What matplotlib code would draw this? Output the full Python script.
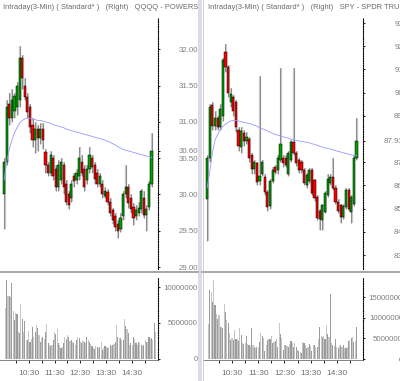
import matplotlib
matplotlib.use("Agg")
import matplotlib.pyplot as plt
from matplotlib.lines import Line2D
from matplotlib.patches import Rectangle
import numpy as np

plt.rcParams["font.family"] = ["Liberation Sans", "DejaVu Sans"]

W, H = 400, 381

# ---- QQQQ (left) 6-min candles -------------------------------------------
qqq_open = [30.00, 30.45, 31.25, 31.05, 31.15, 31.20, 31.30, 31.88, 31.50, 31.34,
            31.20, 30.95, 30.75, 30.90, 30.78, 30.90, 30.58, 30.40, 30.30, 30.50,
            30.35, 30.10, 30.20, 30.40, 30.15, 30.00, 29.95, 30.25, 30.20, 30.25,
            30.45, 30.35, 30.20, 30.35, 30.50, 30.40, 30.30, 30.15, 30.15, 29.98,
            30.03, 29.90, 29.78, 29.70, 29.60, 29.52, 29.70, 30.00, 30.10, 29.95,
            29.83, 29.70, 29.75, 29.80, 29.95, 29.72, 29.83, 30.15]
qqq_high = [30.50, 31.30, 31.40, 31.45, 31.40, 31.55, 32.05, 31.92, 31.60, 31.40,
            31.25, 31.05, 31.00, 30.95, 30.98, 30.98, 30.62, 30.45, 30.60, 30.55,
            30.40, 30.48, 30.50, 30.45, 30.20, 30.05, 30.20, 30.30, 30.35, 30.65,
            30.55, 30.40, 30.40, 30.65, 30.55, 30.45, 30.35, 30.30, 30.20, 30.10,
            30.08, 29.95, 29.82, 29.75, 29.65, 29.75, 30.05, 30.40, 30.15, 30.00,
            29.88, 29.85, 29.90, 30.08, 30.05, 29.85, 30.18, 30.85]
qqq_low = [29.52, 30.40, 30.95, 31.00, 31.05, 31.10, 31.20, 31.45, 31.30, 31.05,
           30.85, 30.65, 30.57, 30.60, 30.70, 30.62, 30.30, 30.25, 30.25, 30.20,
           30.05, 30.05, 30.15, 30.00, 29.85, 29.80, 29.90, 30.10, 30.15, 30.20,
           30.25, 30.05, 30.15, 30.30, 30.30, 30.15, 30.10, 30.10, 29.95, 29.95,
           29.85, 29.70, 29.60, 29.50, 29.40, 29.48, 29.65, 29.95, 29.82, 29.75,
           29.58, 29.65, 29.70, 29.75, 29.68, 29.50, 29.78, 30.10]
qqq_close = [30.45, 31.20, 31.05, 31.30, 31.35, 31.50, 31.88, 31.60, 31.34, 31.13,
             30.93, 30.75, 30.90, 30.78, 30.90, 30.75, 30.40, 30.30, 30.55, 30.25,
             30.10, 30.40, 30.45, 30.10, 29.90, 29.85, 30.15, 30.18, 30.30, 30.50,
             30.30, 30.10, 30.35, 30.54, 30.38, 30.22, 30.15, 30.25, 30.00, 30.05,
             29.90, 29.75, 29.65, 29.55, 29.50, 29.68, 30.00, 30.10, 29.88, 29.80,
             29.67, 29.78, 29.82, 30.05, 29.72, 29.80, 30.15, 30.60]
qqq_vwap = [30.20, 30.45, 30.62, 30.75, 30.85, 30.92, 30.98, 31.02, 31.04, 31.05,
            31.05, 31.04, 31.03, 31.02, 31.02, 31.01, 31.00, 30.99, 30.98, 30.96,
            30.95, 30.94, 30.93, 30.92, 30.90, 30.89, 30.88, 30.87, 30.86, 30.85,
            30.84, 30.83, 30.82, 30.81, 30.80, 30.79, 30.78, 30.77, 30.76, 30.75,
            30.73, 30.72, 30.70, 30.68, 30.66, 30.64, 30.62, 30.61, 30.60, 30.59,
            30.58, 30.57, 30.56, 30.55, 30.54, 30.53, 30.52, 30.51]
# 3-min volume, millions of shares
qqq_vol = [7.1, 11.0, 8.8, 8.8, 8.6, 10.5, 6.6, 5.4, 6.4, 6.2,
           3.8, 3.6, 7.6, 5.5, 3.8, 5.3, 2.6, 2.6, 3.9, 2.4,
           2.8, 4.5, 3.0, 3.8, 4.7, 4.3, 3.3, 2.4, 2.9, 3.0,
           2.8, 3.8, 4.9, 2.2, 2.0, 1.8, 2.0, 2.6, 3.8, 3.5,
           4.2, 2.2, 2.0, 1.5, 1.7, 2.2, 3.1, 2.8, 3.3, 3.0,
           2.5, 2.6, 2.4, 2.2, 2.0, 2.6, 3.1, 2.9, 2.4, 2.2,
           2.5, 2.3, 2.2, 3.1, 2.7, 2.4, 2.1, 1.8, 1.5, 1.4,
           1.8, 1.6, 1.5, 1.7, 2.4, 1.3, 1.5, 1.8, 1.6, 1.5,
           1.7, 2.0, 1.8, 1.9, 2.1, 2.3, 4.7, 3.1, 2.9, 2.9,
           2.6, 2.7, 5.5, 4.6, 4.2, 3.6, 2.0, 2.2, 2.0, 3.1,
           2.8, 2.2, 2.0, 2.4, 2.2, 2.0, 1.8, 2.0, 2.6, 2.3,
           2.4, 3.1, 2.8, 2.9, 2.7, 5.0, 3.8]

# ---- SPY (right) 6-min candles --------------------------------------------
spy_open = [85.40, 87.20, 89.45, 88.55, 88.90, 88.50, 89.00, 91.75, 91.10, 89.60,
            89.80, 89.60, 88.40, 87.65, 88.25, 87.90, 88.00, 87.30, 86.70, 86.95,
            86.20, 86.50, 86.35, 85.70, 85.10, 86.20, 86.80, 86.66, 87.10, 87.20,
            87.20, 86.50, 87.10, 87.87, 87.40, 87.10, 87.00, 86.66, 86.00, 86.20,
            86.66, 86.23, 85.50, 84.90, 84.50, 84.85, 85.60, 86.10, 86.35, 85.90,
            85.30, 85.15, 84.64, 85.07, 85.80, 84.85, 85.20, 87.20]
spy_high = [87.30, 89.50, 89.60, 89.20, 89.00, 89.50, 91.50, 92.10, 91.20, 90.20,
            89.90, 89.70, 88.50, 88.50, 88.40, 88.30, 88.10, 87.40, 87.10, 87.00,
            90.70, 87.10, 86.50, 85.80, 86.30, 86.80, 86.90, 87.30, 91.06, 87.30,
            87.30, 87.50, 87.95, 91.06, 87.50, 87.20, 87.10, 86.75, 86.55, 86.75,
            86.75, 86.30, 85.60, 85.00, 85.20, 85.75, 86.50, 86.50, 87.20, 86.00,
            85.40, 85.20, 85.20, 85.90, 85.90, 85.60, 87.30, 88.90]
spy_low = [83.60, 87.00, 88.40, 88.40, 88.40, 88.40, 88.80, 90.90, 89.80, 89.40,
           89.00, 88.30, 87.50, 87.40, 87.70, 87.80, 87.00, 86.50, 86.50, 86.00,
           86.00, 86.40, 85.60, 84.90, 85.00, 86.10, 86.50, 86.50, 87.00, 86.80,
           86.80, 86.40, 87.00, 87.30, 86.85, 86.55, 86.55, 86.00, 85.90, 86.10,
           85.60, 85.35, 84.50, 84.10, 84.10, 84.80, 85.50, 86.00, 85.80, 85.20,
           84.80, 84.40, 84.55, 85.00, 84.90, 84.40, 85.10, 87.10]
spy_close = [87.20, 89.40, 88.55, 88.90, 88.50, 89.30, 91.40, 91.10, 90.00, 89.95,
             89.20, 88.50, 87.70, 88.35, 87.90, 88.10, 87.20, 86.70, 87.00, 86.15,
             86.40, 87.00, 85.70, 85.07, 86.20, 86.66, 86.60, 87.20, 87.80, 86.95,
             86.90, 87.40, 87.87, 87.40, 86.95, 86.66, 86.66, 86.10, 86.45, 86.66,
             85.67, 85.45, 84.60, 84.55, 85.15, 85.67, 86.30, 86.35, 85.90, 85.30,
             84.90, 84.64, 85.10, 85.80, 85.00, 85.50, 87.20, 87.93]
spy_vwap = [85.90, 86.60, 87.40, 87.95, 88.20, 88.40, 88.55, 88.65, 88.72, 88.78,
            88.80, 88.80, 88.78, 88.75, 88.72, 88.70, 88.68, 88.65, 88.60, 88.55,
            88.50, 88.45, 88.40, 88.35, 88.30, 88.25, 88.20, 88.17, 88.14, 88.10,
            88.07, 88.04, 88.00, 87.97, 87.94, 87.92, 87.90, 87.88, 87.86, 87.84,
            87.80, 87.77, 87.73, 87.69, 87.65, 87.62, 87.60, 87.57, 87.54, 87.50,
            87.47, 87.44, 87.41, 87.38, 87.35, 87.32, 87.30, 87.30]
spy_vol = [8.5, 16.8, 16.2, 13.8, 19.3, 13.2, 11.0, 9.8, 10.6, 7.9,
           7.9, 7.5, 13.3, 11.5, 9.5, 8.7, 6.3, 4.6, 5.0, 4.6,
           7.1, 4.9, 4.9, 4.4, 7.5, 5.9, 3.8, 3.6, 3.9, 5.5,
           3.6, 3.4, 3.2, 7.6, 3.4, 3.0, 2.8, 3.0, 3.0, 4.1,
           6.3, 5.7, 5.2, 1.9, 3.4, 4.6, 4.9, 4.9, 5.7, 3.8,
           4.2, 4.5, 4.9, 3.0, 8.7, 6.0, 5.0, 2.2, 3.3, 3.4,
           3.2, 3.0, 3.6, 4.4, 4.0, 3.0, 3.8, 3.0, 2.2, 2.0,
           1.6, 1.4, 4.1, 3.8, 3.4, 2.6, 3.0, 3.6, 3.2, 1.9,
           3.3, 3.3, 3.0, 3.0, 4.9, 7.9, 5.7, 5.3, 5.5, 4.9,
           8.3, 6.0, 5.4, 15.8, 3.8, 3.4, 3.1, 4.9, 3.0, 2.8,
           3.1, 3.4, 3.0, 3.4, 2.8, 2.6, 3.0, 4.4, 4.6, 5.0,
           5.3, 4.1, 4.4, 7.9]

time_labels = ["10:30", "11:30", "12:30", "13:30", "14:30"]
time_ticks = [60, 120, 180, 240, 300]      # minutes after 9:30

qqq_ticks = [29.0, 29.5, 30.0, 30.5, 30.6, 31.0, 31.5, 32.0]
qqq_tick_labels = ["29.00", "29.50", "30.00", "30.50", "30.60", "31.00", "31.50", "32.00"]
spy_ticks = [83, 84, 85, 86, 87, 87.93, 89, 90, 91, 92, 93]
spy_tick_labels = ["83", "84", "85", "86", "87", "87.93", "89", "90", "91", "92", "93"]
qqq_vol_ticks = [0, 5, 10]
qqq_vol_labels = ["0", "5000000", "10000000"]
spy_vol_ticks = [0, 5, 10, 15]
spy_vol_labels = ["0", "5000000", "10000000", "15000000"]

TXT = "#808080"
FS = 5.7
XLIM = (-6.5, 360)

fig = plt.figure(figsize=(W / 100, H / 100), dpi=100)
fig.patch.set_facecolor("white")


def px_axes(x0, y0, x1, y1):
    return fig.add_axes([x0 / W, 1 - y1 / H, (x1 - x0) / W, (y1 - y0) / H])


def style_axis(ax, ticks, labels):
    for s in ("top", "left", "bottom"):
        ax.spines[s].set_visible(False)
    ax.spines["right"].set_linestyle((0, (1, 1.2)))
    ax.spines["right"].set_linewidth(0.8)
    ax.yaxis.tick_right()
    ax.set_yticks(ticks)
    ax.set_yticklabels(labels)
    ax.tick_params(axis="y", length=1.5, width=0.6, pad=27.3,
                   labelsize=FS, labelcolor=TXT)
    for lbl in ax.get_yticklabels():
        lbl.set_horizontalalignment("right")
    ax.set_xlim(*XLIM)
    ax.set_facecolor("none")


def draw_price(ax, o, h, l, c, vwap, ylim, ticks, labels):
    o, h, l, c = (np.asarray(a) for a in (o, h, l, c))
    t = 3 + 6 * np.arange(len(c))
    ax.vlines(t + 1.2, l, h, color="#c8c8c8", lw=1.6, zorder=1)
    ax.vlines(t, l, h, color="#8a8a8a", lw=0.7, zorder=1)
    up = c >= o
    span = ylim[1] - ylim[0]
    height = np.maximum(np.abs(c - o), span * 0.004)
    ax.bar(t, height, bottom=np.minimum(o, c), width=5.0,
           color=np.where(up, "#00a000", "#ff0000"),
           edgecolor="black", linewidth=0.35, zorder=2)
    ax.plot(t, vwap, color="#9898ff", lw=0.6, zorder=3)
    ax.set_ylim(*ylim)
    style_axis(ax, ticks, labels)
    ax.set_xticks([])


def draw_volume(ax, vol, ylim, ticks, labels):
    t = 6 + 3 * np.arange(len(vol))
    colors = ["#c6c6c6" if k % 2 == 0 else "#9c9c9c" for k in range(len(vol))]
    ax.bar(t, vol, width=2.6, color=colors, linewidth=0, zorder=1)
    ax.set_ylim(*ylim)
    style_axis(ax, ticks, labels)
    ax.spines["bottom"].set_visible(True)
    ax.spines["bottom"].set_color("#707070")
    ax.spines["bottom"].set_linewidth(0.6)
    ax.set_xticks([30, 90, 150, 210, 270, 330], minor=True)
    ax.set_xticks(time_ticks)
    ax.set_xticklabels(time_labels)
    ax.tick_params(axis="x", which="both", length=2.5, width=0.6, pad=5,
                   labelsize=FS + 0.3, labelcolor="#707070")


# left panel: QQQQ
ax1 = px_axes(0, 18, 158, 269)
draw_price(ax1, qqq_open, qqq_high, qqq_low, qqq_close, qqq_vwap,
           (28.974, 32.43), qqq_ticks, qqq_tick_labels)
ax2 = px_axes(0, 277, 158, 360)
draw_volume(ax2, qqq_vol, (-0.14, 11.39), qqq_vol_ticks, qqq_vol_labels)

# right panel: SPY
ax3 = px_axes(203, 18, 363, 269)
draw_price(ax3, spy_open, spy_high, spy_low, spy_close, spy_vwap,
           (82.40, 93.22), spy_ticks, spy_tick_labels)
ax4 = px_axes(203, 277, 363, 360)
draw_volume(ax4, spy_vol, (-0.24, 19.95), spy_vol_ticks, spy_vol_labels)

# panel headers, clipped at each panel's edge
for x0, x1, name in [(0, 198, "QQQQ - POWERSHARES QQQ TRUST"),
                     (202, 400, "SPY - SPDR TRUST SERIES 1")]:
    hdr = px_axes(x0, 0, x1, 16)
    hdr.axis("off")
    hdr.set_xlim(x0, x1)
    hdr.set_ylim(16, 0)
    hdr.text(x0 + 3 if x0 == 0 else x0 + 6, 7.5,
             "Intraday(3-Min) ( Standard* )   (Right)   " + name,
             fontsize=5.4, color="#6a6a6a", va="center", ha="left",
             clip_on=True)

# separators between price and volume, and between the two panels
for x0, x1 in [(0, 198), (202, 400)]:
    fig.add_artist(Line2D([x0 / W, x1 / W], [1 - 271.5 / H] * 2,
                          color="#a0a0a0", lw=1.3))
fig.add_artist(Rectangle((198 / W, 0), 4 / W, 1, transform=fig.transFigure,
                         facecolor="#dcdce6", edgecolor="none"))
fig.add_artist(Line2D([203 / W] * 2, [0, 1], color="#c8c8c8", lw=0.6))

fig.savefig("out.png", dpi=100)
